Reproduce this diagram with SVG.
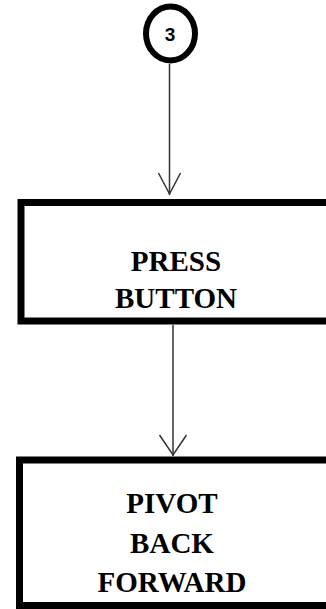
<svg xmlns="http://www.w3.org/2000/svg" width="326" height="609" viewBox="0 0 326 609">
<style>
.box{fill:#fff;stroke:#000;stroke-width:7}
.lbl{font-family:"Liberation Serif","Times New Roman",serif;font-weight:bold;font-size:29px;fill:#000;text-anchor:middle}
.con{fill:none;stroke:#333;stroke-width:1.5}
</style>
<rect width="326" height="609" fill="#fff"/>
<g id="connectors">
<line class="con" x1="169.5" y1="64" x2="169.5" y2="195"/>
<polyline class="con" points="158.5,173 169.5,194 180.5,173"/>
<line class="con" x1="173" y1="325" x2="173" y2="456"/>
<polyline class="con" points="159.5,435 173,455 186.5,435"/>
</g>
<g id="node-3">
<ellipse cx="170.5" cy="33.5" rx="24.5" ry="27" fill="#fff" stroke="#000" stroke-width="6"/>
<text x="170" y="41" font-family="Liberation Sans, Arial, sans-serif" font-weight="bold" font-size="19" text-anchor="middle" fill="#000">3</text>
</g>
<g id="node-press">
<rect class="box" x="21" y="202.5" width="312" height="118.5"/>
<text class="lbl" x="176" y="271">PRESS</text>
<text class="lbl" x="176" y="308">BUTTON</text>
</g>
<g id="node-pivot">
<rect class="box" x="19.5" y="460" width="310" height="145.5"/>
<text class="lbl" x="172" y="513">PIVOT</text>
<text class="lbl" x="172" y="553">BACK</text>
<text class="lbl" x="172" y="592">FORWARD</text>
</g>
</svg>
